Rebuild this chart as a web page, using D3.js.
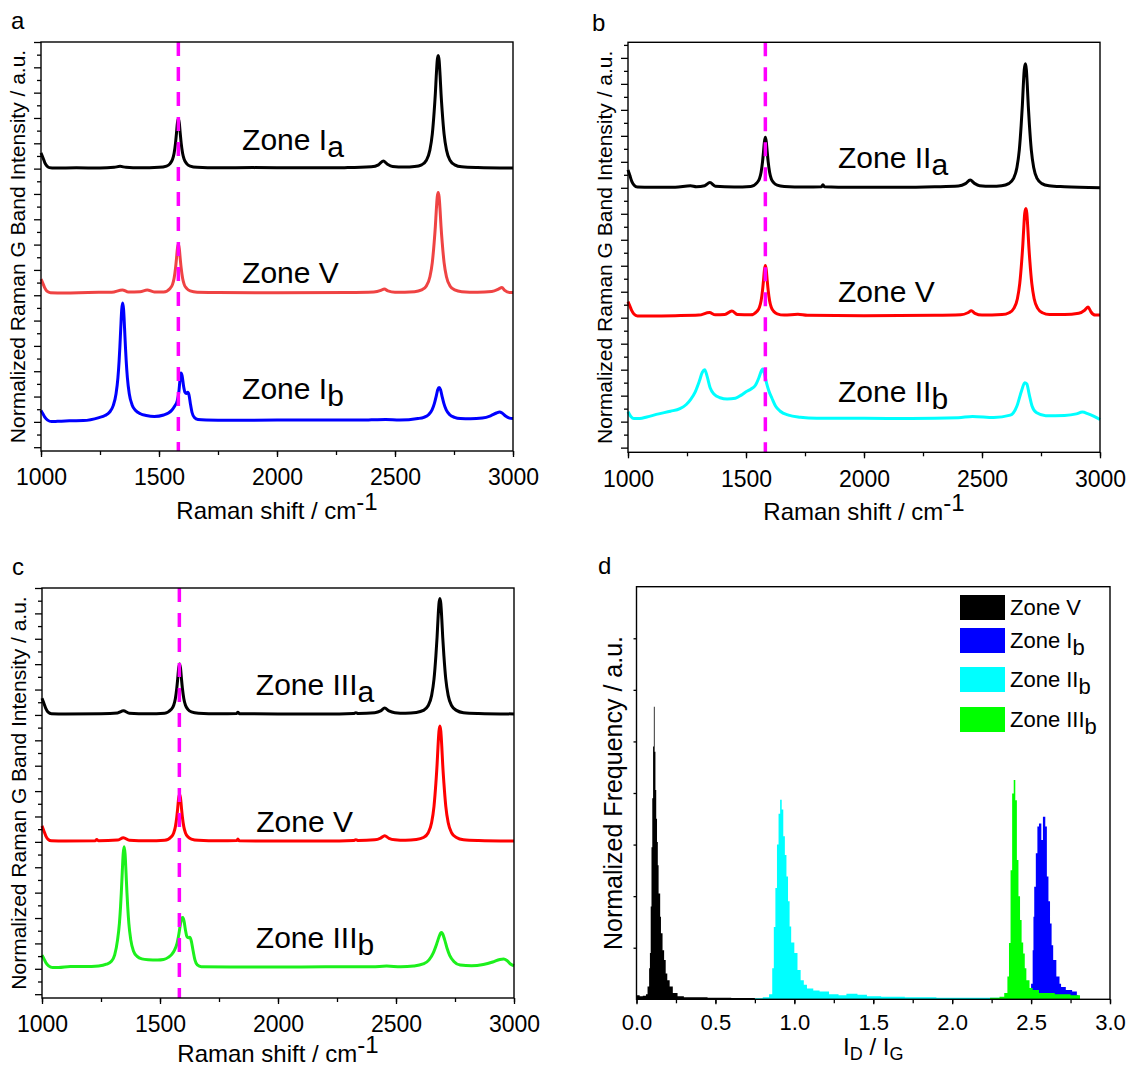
<!DOCTYPE html>
<meta charset="utf-8">
<style>
body { margin: 0; background: #fff; }
text { font-family: "Liberation Sans", Arial, sans-serif; fill: #000; }
</style>
<body>
<script src="https://d3js.org/d3.v7.min.js"></script>
<script>
var width = 1129,
    height = 1069;

// ---------------- data ----------------
var gBand = 1582;                       // position of the dashed G-band marker, cm-1
var shiftTicks = [1000, 1500, 2000, 2500, 3000];
var ratioTicks = [0, 0.5, 1, 1.5, 2, 2.5, 3];

// spectra: [Raman shift, intensity above the trace's own baseline]
var zoneIa_a = [[1000,0.6],[1008,0.42],[1016,0.22],[1025,0.08],[1035,0.02],[1060,0],[1150,0.01],[1250,0],[1310,0.03],[1335,0.07],[1360,0.03],[1420,0.01],[1500,0.03],[1532,0.08],[1547,0.18],[1557,0.34],[1564,0.59],[1570,0.99],[1574,1.37],[1578,1.78],[1582,1.96],[1586,1.78],[1590,1.37],[1594,0.99],[1600,0.59],[1607,0.34],[1617,0.18],[1632,0.08],[1662,0.03],[1750,0.01],[1900,0.02],[2100,0.01],[2300,0.02],[2400,0.05],[2430,0.13],[2450,0.28],[2468,0.15],[2490,0.06],[2540,0.04],[2583,0.06],[2613,0.13],[2633,0.31],[2648,0.72],[2658,1.34],[2666,2.24],[2671,2.95],[2675,3.67],[2679,4.25],[2683,4.45],[2687,4.25],[2691,3.67],[2695,2.95],[2700,2.24],[2708,1.34],[2718,0.72],[2733,0.31],[2753,0.13],[2783,0.05],[2850,0.02],[3000,0]];
var zoneV_a = [[1000,0.55],[1008,0.38],[1016,0.2],[1025,0.07],[1040,0.01],[1100,0],[1200,0.02],[1300,0.03],[1345,0.12],[1370,0.04],[1420,0.05],[1450,0.12],[1480,0.04],[1520,0.04],[1547,0.18],[1557,0.33],[1564,0.58],[1570,0.98],[1574,1.35],[1578,1.75],[1582,1.93],[1586,1.75],[1590,1.35],[1594,0.98],[1600,0.58],[1607,0.33],[1617,0.18],[1632,0.08],[1662,0.03],[1750,0.02],[2000,0.01],[2300,0.02],[2410,0.04],[2440,0.1],[2455,0.16],[2470,0.08],[2500,0.03],[2583,0.05],[2613,0.12],[2633,0.28],[2648,0.64],[2658,1.2],[2666,2.0],[2671,2.63],[2675,3.27],[2679,3.79],[2683,3.97],[2687,3.79],[2691,3.27],[2695,2.63],[2700,2.0],[2708,1.2],[2718,0.64],[2733,0.28],[2753,0.12],[2783,0.05],[2850,0.03],[2910,0.06],[2940,0.16],[2953,0.22],[2965,0.1],[2985,0.02],[3000,0.02]];
var zoneIb_a = [[1000,0.38],[1008,0.25],[1016,0.12],[1028,0.0],[1045,-0.06],[1070,-0.05],[1120,-0.03],[1180,-0.02],[1246,0.1],[1271,0.18],[1291,0.32],[1306,0.57],[1318,1.04],[1326,1.68],[1331,2.34],[1334,2.85],[1338,3.64],[1342,4.36],[1346,4.62],[1350,4.36],[1354,3.64],[1358,2.85],[1361,2.34],[1366,1.68],[1374,1.04],[1386,0.6],[1401,0.38],[1421,0.25],[1446,0.18],[1480,0.14],[1520,0.2],[1540,0.28],[1555,0.4],[1566,0.55],[1577,0.75],[1584,1.1],[1589,1.6],[1593,1.86],[1598,1.75],[1604,1.35],[1610,1.1],[1616,1.05],[1622,1.1],[1627,1.0],[1633,0.65],[1640,0.3],[1650,0.1],[1665,0.02],[1700,0],[1800,-0.01],[2000,0],[2200,0],[2400,0.01],[2460,0.02],[2520,0],[2597,0.06],[2622,0.11],[2642,0.21],[2657,0.4],[2667,0.66],[2675,0.96],[2681,1.2],[2687,1.29],[2693,1.2],[2699,0.96],[2707,0.66],[2717,0.4],[2732,0.21],[2752,0.11],[2777,0.06],[2820,0.05],[2870,0.08],[2905,0.17],[2930,0.28],[2943,0.32],[2955,0.27],[2970,0.15],[2985,0.08],[3000,0.06]];

var zoneIIa_b = [[1000,0.67],[1008,0.45],[1016,0.23],[1026,0.08],[1040,0.01],[1100,0],[1200,0],[1265,0.06],[1290,0.02],[1325,0.06],[1347,0.18],[1370,0.04],[1450,0.01],[1520,0.03],[1547,0.18],[1557,0.33],[1564,0.58],[1570,0.98],[1574,1.35],[1578,1.75],[1582,1.93],[1586,1.75],[1590,1.35],[1594,0.98],[1600,0.58],[1607,0.33],[1617,0.18],[1632,0.08],[1662,0.03],[1750,0.01],[1820,0.02],[1826,0.1],[1832,0.02],[1950,0],[2150,0],[2300,0.02],[2400,0.05],[2430,0.14],[2450,0.28],[2468,0.15],[2490,0.06],[2540,0.04],[2583,0.06],[2613,0.14],[2633,0.33],[2648,0.76],[2658,1.43],[2666,2.39],[2671,3.15],[2675,3.91],[2679,4.53],[2684,4.75],[2688,4.53],[2692,3.91],[2696,3.15],[2701,2.39],[2709,1.43],[2719,0.76],[2734,0.33],[2754,0.14],[2784,0.06],[2850,0.02],[3000,-0.02]];
var zoneV_b = [[1000,0.55],[1008,0.38],[1016,0.2],[1025,0.07],[1040,0.0],[1100,0],[1200,0.01],[1300,0.03],[1345,0.13],[1370,0.04],[1410,0.05],[1440,0.19],[1465,0.05],[1520,0.04],[1547,0.18],[1557,0.33],[1564,0.58],[1570,0.98],[1574,1.35],[1578,1.76],[1582,1.94],[1586,1.76],[1590,1.35],[1594,0.98],[1600,0.58],[1607,0.33],[1617,0.18],[1632,0.08],[1662,0.03],[1720,0.06],[1760,0.02],[2000,0.01],[2300,0.02],[2410,0.04],[2440,0.12],[2455,0.2],[2470,0.1],[2500,0.03],[2585,0.05],[2615,0.12],[2635,0.29],[2650,0.66],[2660,1.25],[2668,2.08],[2673,2.74],[2677,3.4],[2681,3.94],[2686,4.13],[2690,3.94],[2694,3.4],[2698,2.74],[2703,2.08],[2711,1.25],[2721,0.66],[2736,0.29],[2756,0.12],[2786,0.05],[2850,0.05],[2910,0.1],[2935,0.22],[2950,0.34],[2962,0.15],[2980,0.03],[3000,0.03]];
var zoneIIb_b = [[1000,0.28],[1012,0.1],[1025,0.02],[1050,0.02],[1080,0.08],[1130,0.2],[1180,0.3],[1220,0.4],[1247,0.56],[1265,0.75],[1285,1.05],[1302,1.45],[1315,1.8],[1325,1.9],[1335,1.65],[1348,1.2],[1365,0.95],[1390,0.82],[1420,0.77],[1455,0.8],[1480,0.92],[1500,1.05],[1520,1.15],[1540,1.3],[1555,1.6],[1565,1.85],[1571,1.93],[1578,1.75],[1588,1.35],[1597,1.08],[1610,0.8],[1625,0.5],[1645,0.3],[1680,0.15],[1730,0.07],[1800,0.03],[2000,0.03],[2200,0.02],[2400,0.05],[2460,0.1],[2550,0.06],[2620,0.15],[2648,0.5],[2668,1.1],[2681,1.4],[2690,1.35],[2700,0.95],[2712,0.5],[2730,0.25],[2770,0.13],[2850,0.14],[2900,0.2],[2925,0.27],[2950,0.2],[2975,0.1],[3000,-0.02]];

var zoneIIIa_c = [[1000,0.62],[1008,0.42],[1016,0.22],[1026,0.07],[1040,0.01],[1100,0],[1250,0.01],[1320,0.04],[1345,0.12],[1370,0.03],[1450,0.01],[1520,0.03],[1548,0.18],[1558,0.34],[1565,0.6],[1571,1.0],[1575,1.38],[1579,1.8],[1583,1.97],[1587,1.8],[1591,1.38],[1595,1.0],[1601,0.6],[1608,0.34],[1618,0.18],[1633,0.08],[1663,0.03],[1750,0.01],[1825,0.02],[1830,0.07],[1836,0.01],[2000,0],[2200,0],[2320,0.02],[2330,0.05],[2340,0.02],[2410,0.05],[2435,0.12],[2452,0.23],[2470,0.12],[2495,0.05],[2540,0.03],[2586,0.06],[2616,0.14],[2636,0.32],[2651,0.73],[2661,1.37],[2669,2.29],[2674,3.02],[2678,3.75],[2682,4.34],[2686,4.55],[2690,4.34],[2694,3.75],[2698,3.02],[2703,2.29],[2711,1.37],[2721,0.73],[2736,0.32],[2756,0.14],[2786,0.05],[2850,0.02],[3000,0]];
var zoneV_c = [[1000,0.6],[1008,0.4],[1016,0.21],[1026,0.07],[1040,0.01],[1100,0],[1225,0.01],[1232,0.06],[1240,0.01],[1320,0.04],[1345,0.13],[1370,0.03],[1450,0.01],[1520,0.03],[1548,0.17],[1558,0.32],[1565,0.56],[1571,0.94],[1575,1.3],[1579,1.69],[1583,1.86],[1587,1.69],[1591,1.3],[1595,0.94],[1601,0.56],[1608,0.32],[1618,0.17],[1633,0.08],[1663,0.03],[1750,0.01],[1825,0.02],[1830,0.08],[1836,0.01],[2000,0],[2200,0],[2320,0.02],[2330,0.05],[2340,0.02],[2410,0.05],[2435,0.12],[2452,0.21],[2470,0.11],[2495,0.05],[2540,0.03],[2586,0.06],[2616,0.14],[2636,0.32],[2651,0.73],[2661,1.37],[2669,2.28],[2674,3.0],[2678,3.73],[2682,4.32],[2686,4.53],[2690,4.32],[2694,3.73],[2698,3.0],[2703,2.28],[2711,1.37],[2721,0.73],[2736,0.32],[2756,0.14],[2786,0.05],[2850,0.02],[3000,0]];
var zoneIIIb_c = [[1000,0.47],[1008,0.33],[1016,0.18],[1028,0.05],[1045,-0.02],[1070,-0.02],[1120,0.02],[1180,0.02],[1240,0.04],[1273,0.11],[1293,0.22],[1308,0.48],[1320,1.06],[1328,1.72],[1333,2.4],[1336,2.92],[1340,3.72],[1344,4.46],[1348,4.74],[1352,4.46],[1356,3.72],[1360,2.92],[1363,2.4],[1368,1.72],[1376,1.08],[1388,0.62],[1403,0.42],[1423,0.32],[1450,0.29],[1490,0.28],[1515,0.3],[1535,0.38],[1550,0.5],[1562,0.68],[1572,0.92],[1580,1.3],[1587,1.72],[1592,1.92],[1597,1.95],[1602,1.8],[1608,1.45],[1614,1.2],[1620,1.15],[1626,1.17],[1632,1.05],[1640,0.65],[1648,0.28],[1658,0.08],[1675,0.01],[1800,0],[2000,0],[2200,0.01],[2400,0.01],[2460,0.04],[2520,0.01],[2575,0.04],[2615,0.12],[2640,0.28],[2658,0.56],[2672,0.9],[2682,1.18],[2689,1.33],[2693,1.36],[2698,1.3],[2706,1.08],[2716,0.75],[2728,0.45],[2745,0.22],[2772,0.08],[2820,0.05],[2870,0.1],[2910,0.2],[2940,0.3],[2956,0.32],[2970,0.26],[2985,0.12],[3000,0.05]];

// stacking offsets of the three traces in each panel (a.u.)
var offsetsA = [11.02, 6.09, 1.07];
var offsetsB = [10.02, 5.07, 1.10];
var offsetsC = [11.04, 6.03, 1.07];

var namesA = [["Zone I", "a"], ["Zone V", ""], ["Zone I", "b"]];
var namesB = [["Zone II", "a"], ["Zone V", ""], ["Zone II", "b"]];
var namesC = [["Zone III", "a"], ["Zone V", ""], ["Zone III", "b"]];

// panel d: histograms of I_D / I_G, [ratio, normalized frequency] (step values)
var histV = [[0.00,0.08],[0.02,0.06],[0.04,0.07],[0.06,0.1],[0.07,0.25],[0.08,0.6],[0.085,0.9],[0.09,1.8],[0.095,2.95],[0.10,3.9],[0.105,4.9],[0.11,5.67],[0.115,4.8],[0.12,4.06],[0.125,3.5],[0.13,3.05],[0.135,2.6],[0.14,2.05],[0.15,1.6],[0.155,1.28],[0.165,0.95],[0.175,0.76],[0.185,0.5],[0.195,0.37],[0.21,0.25],[0.23,0.12],[0.26,0.06],[0.30,0.04],[0.45,0.03],[0.6,0.025],[0.75,0]];
var histIb = [[2.50,0.3],[2.51,0.95],[2.515,1.6],[2.52,2.18],[2.53,2.83],[2.54,3.35],[2.55,3.41],[2.565,3.09],[2.575,3.54],[2.59,3.35],[2.60,2.38],[2.61,1.9],[2.62,1.47],[2.63,1.05],[2.64,0.76],[2.66,0.44],[2.68,0.3],[2.69,0.24],[2.72,0.18],[2.76,0.15],[2.79,0.08],[2.80,0]];
var histIIb = [[0.74,0.02],[0.80,0.04],[0.84,0.1],[0.86,0.6],[0.87,1.4],[0.88,2.16],[0.89,3.0],[0.90,3.6],[0.91,3.87],[0.92,3.68],[0.93,3.16],[0.94,2.8],[0.95,2.38],[0.96,1.9],[0.97,1.41],[0.98,1.1],[1.0,0.9],[1.02,0.57],[1.04,0.37],[1.06,0.28],[1.08,0.21],[1.12,0.17],[1.16,0.15],[1.22,0.1],[1.28,0.08],[1.33,0.11],[1.40,0.09],[1.46,0.06],[1.55,0.05],[1.7,0.04],[1.9,0.03],[2.2,0.03],[2.4,0]];
var histIIIb = [[2.24,0.03],[2.30,0.05],[2.33,0.12],[2.35,0.44],[2.36,1.09],[2.37,2.5],[2.38,3.99],[2.39,4.25],[2.40,3.86],[2.41,2.7],[2.42,2.0],[2.43,1.54],[2.44,1.1],[2.45,0.89],[2.46,0.6],[2.47,0.37],[2.49,0.22],[2.51,0.18],[2.55,0.12],[2.65,0.1],[2.75,0.08],[2.81,0]];
var legendNames = [["Zone V", ""], ["Zone I", "b"], ["Zone II", "b"], ["Zone III", "b"]];

// ---------------- drawing ----------------
var svg = d3.select("body").append("svg")
    .attr("width", width)
    .attr("height", height);

svg.append("rect").attr("width", width).attr("height", height).attr("fill", "#fff");

function addName(g, xPos, yPos, name, size, drop) {
  var t = g.append("text").attr("x", xPos).attr("y", yPos).attr("font-size", size);
  t.append("tspan").text(name[0]);
  if (name[1]) t.append("tspan").attr("dy", drop).text(name[1]);
}

function spectraPanel(p) {
  var g = svg.append("g");
  var x = d3.scaleLinear().domain([1000, 3000]).range([p.left, p.right]);
  var y = d3.scaleLinear().domain(p.yDomain).range([p.bottom, p.top]);

  var line = d3.line()
      .curve(d3.curveMonotoneX)
      .x(function(d) { return x(d[0]); });

  p.series.forEach(function(s, i) {
    line.y(function(d) { return y(d[1] + p.offsets[i]); });
    g.append("path")
        .datum(s)
        .attr("d", line)
        .attr("fill", "none")
        .attr("stroke", p.colors[i])
        .attr("stroke-width", 3)
        .attr("stroke-linejoin", "round");
  });

  // dashed G band marker, drawn over the traces
  g.append("line")
      .attr("x1", x(gBand)).attr("x2", x(gBand))
      .attr("y1", p.top).attr("y2", p.bottom)
      .attr("stroke", "#ff00ff")
      .attr("stroke-width", 3.5)
      .attr("stroke-dasharray", "14,11");

  p.names.forEach(function(n, i) {
    addName(g, x(p.labelAt[i][0]), y(p.labelAt[i][1]), n, 30, 7);
  });

  // axes
  var yMax = Math.floor(p.yDomain[1]);
  g.append("g").attr("transform", "translate(0," + p.bottom + ")")
      .call(d3.axisBottom(x).tickValues(d3.range(1000, 3001, 250)).tickSize(4).tickSizeOuter(0).tickFormat(""));
  g.append("g").attr("transform", "translate(0," + p.bottom + ")")
      .call(d3.axisBottom(x).tickValues(shiftTicks).tickSize(6).tickSizeOuter(0).tickPadding(12).tickFormat(d3.format("d")))
      .call(function(a) { a.selectAll("text").attr("font-size", 23).attr("font-family", null); });
  g.append("g").attr("transform", "translate(" + p.left + ",0)")
      .call(d3.axisLeft(y).tickValues(d3.range(0.5, p.yDomain[1], 1)).tickSize(4).tickSizeOuter(0).tickFormat(""));
  g.append("g").attr("transform", "translate(" + p.left + ",0)")
      .call(d3.axisLeft(y).tickValues(d3.range(0, yMax + 1, 1)).tickSize(7).tickSizeOuter(0).tickFormat(""));
  g.selectAll(".domain").remove();
  g.selectAll(".tick line").attr("stroke", "#000").attr("stroke-width", 1.3);

  g.append("rect")
      .attr("x", p.left).attr("y", p.top)
      .attr("width", p.right - p.left).attr("height", p.bottom - p.top)
      .attr("fill", "none").attr("stroke", "#000").attr("stroke-width", 1.4);

  // titles
  var xt = g.append("text")
      .attr("x", (p.left + p.right) / 2).attr("y", p.bottom + p.titleGap)
      .attr("text-anchor", "middle").attr("font-size", 24);
  xt.append("tspan").text("Raman shift / cm");
  xt.append("tspan").attr("dy", -9).text("-1");

  g.append("text")
      .attr("transform", "translate(" + (p.left - 16) + "," + ((p.top + p.bottom) / 2) + ") rotate(-90)")
      .attr("text-anchor", "middle").attr("font-size", 21)
      .text("Normalized Raman G Band Intensity / a.u.");

  g.append("text").attr("x", p.tagX).attr("y", p.tagY).attr("font-size", 24).text(p.tag);
}

spectraPanel({
  tag: "a", tagX: 11, tagY: 29, titleGap: 68,
  left: 41, right: 513, top: 42, bottom: 451, yDomain: [-0.15, 16],
  series: [zoneIa_a, zoneV_a, zoneIb_a], offsets: offsetsA,
  colors: ["#000000", "#ef4343", "#0000ff"],
  names: namesA, labelAt: [[1852, 11.73], [1852, 6.48], [1852, 1.9]]
});

spectraPanel({
  tag: "b", tagX: 592, tagY: 31, titleGap: 68,
  left: 628, right: 1100, top: 42.3, bottom: 452.3, yDomain: [-0.18, 15.6],
  series: [zoneIIa_b, zoneV_b, zoneIIb_b], offsets: offsetsB,
  colors: ["#000000", "#ff0000", "#00ffff"],
  names: namesB, labelAt: [[1890, 10.77], [1890, 5.61], [1890, 1.76]]
});

spectraPanel({
  tag: "c", tagX: 12, tagY: 575, titleGap: 64,
  left: 42, right: 514, top: 588, bottom: 998, yDomain: [-0.15, 16],
  series: [zoneIIIa_c, zoneV_c, zoneIIIb_c], offsets: offsetsC,
  colors: ["#000000", "#ff0000", "#1cf01c"],
  names: namesC, labelAt: [[1906, 11.79], [1908, 6.39], [1906, 1.81]]
});

// ---------------- panel d ----------------
(function() {
  var left = 636.5, right = 1110, top = 586.7, bottom = 999.3;
  var g = svg.append("g");
  var x = d3.scaleLinear().domain([0, 3]).range([left, right]);
  var y = d3.scaleLinear().domain([0, 8]).range([bottom, top]);

  var area = d3.area()
      .curve(d3.curveStepAfter)
      .x(function(d) { return x(d[0]); })
      .y0(y(0))
      .y1(function(d) { return y(d[1]); });

  var hists = [[histIb, "#0000ff"], [histIIb, "#00ffff"], [histIIIb, "#00ff00"], [histV, "#000000"]];
  hists.forEach(function(h) {
    g.append("path").datum(h[0]).attr("d", area).attr("fill", h[1]).attr("stroke", "none");
  });

  g.append("g").attr("transform", "translate(0," + bottom + ")")
      .call(d3.axisBottom(x).tickValues(d3.range(0, 3.01, 0.25)).tickSize(4).tickSizeOuter(0).tickFormat(""));
  g.append("g").attr("transform", "translate(0," + bottom + ")")
      .call(d3.axisBottom(x).tickValues(ratioTicks).tickSize(5).tickSizeOuter(0).tickPadding(10).tickFormat(d3.format(".1f")))
      .call(function(a) { a.selectAll("text").attr("font-size", 22).attr("font-family", null); });
  g.append("g").attr("transform", "translate(" + left + ",0)")
      .call(d3.axisLeft(y).tickValues(d3.range(1, 8, 1)).tickSize(3).tickSizeOuter(0).tickFormat(""));
  g.selectAll(".domain").remove();
  g.selectAll(".tick line").attr("stroke", "#000").attr("stroke-width", 1.3);

  g.append("rect")
      .attr("x", left).attr("y", top)
      .attr("width", right - left).attr("height", bottom - top)
      .attr("fill", "none").attr("stroke", "#000").attr("stroke-width", 1.4);

  // legend
  var legendColors = ["#000000", "#0000ff", "#00ffff", "#00ff00"];
  var legendTop = [595, 628, 667, 707];
  legendNames.forEach(function(n, i) {
    g.append("rect").attr("x", 960).attr("y", legendTop[i]).attr("width", 45).attr("height", 25)
        .attr("fill", legendColors[i]);
    addName(g, 1010, legendTop[i] + 20, n, 22, 7);
  });

  var xt = g.append("text")
      .attr("x", (left + right) / 2).attr("y", bottom + 56)
      .attr("text-anchor", "middle").attr("font-size", 24);
  xt.append("tspan").text("I");
  xt.append("tspan").attr("dy", 5).attr("font-size", 18).text("D");
  xt.append("tspan").attr("dy", -5).text(" / I");
  xt.append("tspan").attr("dy", 5).attr("font-size", 18).text("G");

  g.append("text")
      .attr("transform", "translate(" + (left - 15) + "," + ((top + bottom) / 2) + ") rotate(-90)")
      .attr("text-anchor", "middle").attr("font-size", 25)
      .text("Normalized Frequency / a.u.");

  g.append("text").attr("x", 598).attr("y", 574).attr("font-size", 24).text("d");
})();
</script>
</body>
</html>
